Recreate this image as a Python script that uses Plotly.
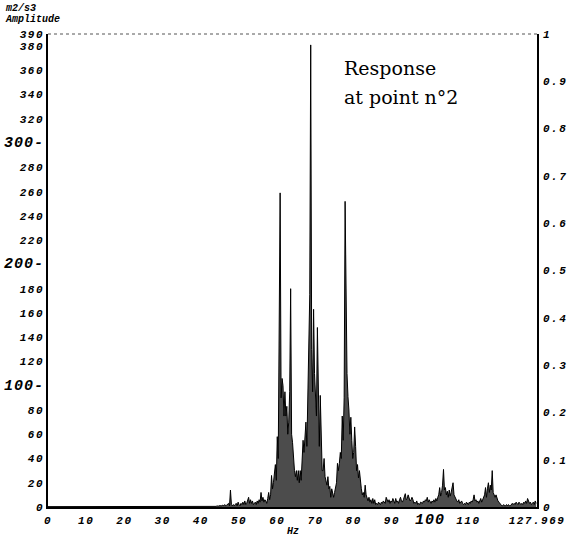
import plotly.graph_objects as go

# ---------------- data ----------------
low_freq_hz = [0, 10, 20, 30, 40, 42, 43]
low_amp = [0.3, 0.3, 0.3, 0.4, 0.8, 0.6, 0.8]

spec_start_hz = 44.0
spec_step_hz = 0.25
spec_amp = [
    0.5, 1, 0.5, 1,        # 44
    1, 0.5, 1, 1.5,        # 45
    1, 2, 1, 1.5,          # 46
    2, 3, 1, 14,           # 47
    2, 1, 2, 1,            # 48
    2, 3, 1, 4,            # 49
    2, 1, 3, 2,            # 50
    4, 2, 5, 2,            # 51
    3, 6, 8, 3,            # 52
    6, 3, 5, 2,            # 53
    3, 4, 2, 5,            # 54
    3, 6, 4, 12,           # 55
    5, 8, 4, 6,            # 56
    5, 3, 7, 12,           # 57
    6, 10, 26, 15,         # 58
    20, 30, 35, 22,        # 59
    58, 40, 120, 259,      # 60
    90, 106, 100, 75,      # 61
    95, 75, 83, 60,        # 62
    70, 95, 180, 60,       # 63
    53, 40, 30, 25,        # 64
    30, 22, 30, 20,        # 65
    30, 22, 35, 55,        # 66
    45, 60, 70, 50,        # 67
    91, 120, 175, 381,     # 68
    130, 95, 163, 110,     # 69
    90, 75, 148, 92,       # 70
    50, 92, 45, 30,        # 71
    30, 40, 25, 20,        # 72
    18, 25, 15, 17,        # 73
    8, 15, 10, 8,          # 74
    12, 15, 20, 36,        # 75
    30, 36, 45, 40,        # 76
    75, 55, 90, 252,       # 77
    163, 110, 91, 80,      # 78
    60, 74, 55, 40,        # 79
    45, 66, 50, 30,        # 80
    35, 24, 30, 20,        # 81
    15, 10, 12, 8,         # 82
    18, 10, 8, 5,          # 83
    8, 4, 6, 3,            # 84
    7, 3, 6, 2,            # 85
    3, 2, 4, 3,            # 86
    2, 4, 3, 5,            # 87
    4, 3, 8, 5,            # 88
    4, 6, 3, 5,            # 89
    4, 7, 5, 3,            # 90
    7, 4, 5, 3,            # 91
    6, 8, 5, 4,            # 92
    6, 9, 11, 6,           # 93
    7, 10, 8, 5,           # 94
    6, 8, 6, 3,            # 95
    4, 3, 5, 2,            # 96
    3, 2, 4, 3,            # 97
    3, 5, 4, 6,            # 98
    5, 8, 4, 6,            # 99
    4, 3, 5, 4,            # 100
    6, 4, 7, 5,            # 101
    8, 10, 16, 9,          # 102
    12, 18, 31, 14,        # 103
    16, 10, 13, 8,         # 104
    14, 9, 12, 15,         # 105
    20, 10, 8, 6,          # 106
    5, 4, 6, 3,            # 107
    4, 5, 3, 2,            # 108
    3, 2, 4, 3,            # 109
    2, 4, 3, 5,            # 110
    4, 6, 10, 5,           # 111
    6, 4, 5, 3,            # 112
    5, 7, 4, 6,            # 113
    8, 10, 16, 8,          # 114
    15, 20, 12, 18,        # 115
    14, 30, 12, 10,        # 116
    8, 10, 6, 5,           # 117
    4, 3, 2, 1,            # 118
    1, 2, 1, 1,            # 119
    2, 1, 2, 1,            # 120
    1, 2, 3, 2,            # 121
    3, 2, 4, 3,            # 122
    2, 4, 3, 2,            # 123
    3, 2, 4, 3,            # 124
    5, 3, 7, 4,            # 125
    3, 4, 2, 3,            # 126
    4, 2, 5, 3,            # 127
]

left_tick_vals = [0, 20, 40, 60, 80, 100, 120, 140, 160, 180, 200, 220, 240,
                  260, 280, 300, 320, 340, 360, 380, 390]
left_big_ticks = [100, 200, 300]
x_tick_vals = [0, 10, 20, 30, 40, 50, 60, 70, 80, 90, 100, 110, 127.969]
x_tick_text = ["0", "10", "20", "30", "40", "50", "60", "70", "80", "90",
               "100", "110", "127.969"]
right_tick_vals = [0, 0.1, 0.2, 0.3, 0.4, 0.5, 0.6, 0.7, 0.8, 0.9, 1]
right_tick_text = ["0", "0.1", "0.2", "0.3", "0.4", "0.5", "0.6", "0.7",
                   "0.8", "0.9", "1"]

# --------------- build ---------------
spec_freq = [spec_start_hz + i * spec_step_hz for i in range(len(spec_amp))]
freq = low_freq_hz + spec_freq
amp = low_amp + spec_amp

TICK_FONT = dict(family="Liberation Mono", size=11, color="black",
                 weight="bold", style="italic")
SMALL = '<span style="letter-spacing:1.5px">%s</span>'
BIG = '<span style="font-size:15px;letter-spacing:1px">%s</span>'

left_tick_text = []
for v in left_tick_vals:
    if v in left_big_ticks:
        left_tick_text.append(BIG % ("%d-" % v))
    else:
        left_tick_text.append(SMALL % str(v))
x_text = [BIG % t if t == "100" else SMALL % t for t in x_tick_text]
r_text = [SMALL % t for t in right_tick_text]

fig = go.Figure()
fig.add_trace(go.Scatter(
    x=freq, y=amp, mode="lines",
    line=dict(color="black", width=1),
    fill="tozeroy", fillcolor="rgba(45,45,45,0.85)",
    hoverinfo="skip", showlegend=False,
))
# invisible trace to activate right axis
fig.add_trace(go.Scatter(x=[0], y=[0], yaxis="y2", mode="markers",
                         marker=dict(opacity=0), showlegend=False,
                         hoverinfo="skip"))

fig.update_layout(
    width=571, height=539,
    margin=dict(l=48, r=34, t=34, b=32, autoexpand=False),
    paper_bgcolor="white", plot_bgcolor="white",
    xaxis=dict(range=[0, 127.969], tickvals=x_tick_vals, ticktext=x_text,
               showgrid=False, zeroline=False, showline=True, automargin=False,
               linecolor="black", linewidth=1.5, ticks="", tickfont=TICK_FONT,
               ticklabelstandoff=2),
    yaxis=dict(range=[0, 390], tickvals=left_tick_vals, ticktext=left_tick_text,
               showgrid=False, zeroline=False, showline=True, automargin=False,
               linecolor="black", linewidth=1.5, ticks="", tickfont=TICK_FONT,
               ticklabelstandoff=0),
    yaxis2=dict(range=[0, 1], overlaying="y", side="right", automargin=False,
                tickvals=right_tick_vals, ticktext=r_text,
                showgrid=False, zeroline=False, showline=True,
                linecolor="black", linewidth=1.5, ticks="", tickfont=TICK_FONT,
                ticklabelstandoff=2),
)

# dotted top border
fig.add_shape(type="line", xref="paper", yref="paper", x0=0, x1=1, y0=1, y1=1,
              line=dict(color="#555", width=1, dash="dot"))

SERIF = dict(family="DejaVu Serif", size=19, color="black")
MONO_SMALL = dict(family="Liberation Mono", size=10, color="black",
                  weight="bold", style="italic")
fig.add_annotation(xref="paper", yref="paper", x=0.601, y=0.928,
                   xanchor="left", yanchor="middle", text="Response",
                   showarrow=False, font=SERIF)
fig.add_annotation(xref="paper", yref="paper", x=0.601, y=0.867,
                   xanchor="left", yanchor="middle", text="at point n°2",
                   showarrow=False, font=SERIF)
fig.add_annotation(xref="paper", yref="paper", x=-0.092, y=1.054,
                   xanchor="left", yanchor="middle", text="m2/s3",
                   showarrow=False, font=MONO_SMALL)
fig.add_annotation(xref="paper", yref="paper", x=-0.092, y=1.031,
                   xanchor="left", yanchor="middle", text="Amplitude",
                   showarrow=False, font=MONO_SMALL)
fig.add_annotation(xref="paper", yref="paper", x=0.5, y=-0.036,
                   xanchor="center", yanchor="top", text="Hz", showarrow=False,
                   font=MONO_SMALL)

fig.write_html("out.html", config={"displayModeBar": False},
               post_script="document.body.style.margin='0';")
